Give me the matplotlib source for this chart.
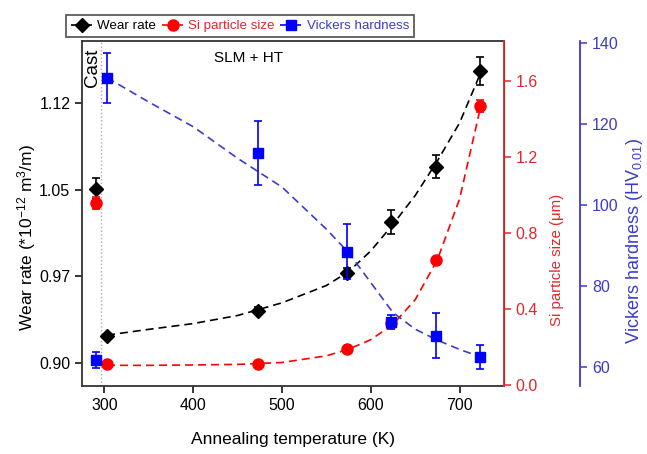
import matplotlib
matplotlib.use("Agg")
import matplotlib.pyplot as plt
from matplotlib.ticker import FormatStrFormatter

plt.rcParams['font.family'] = ['Liberation Sans', 'DejaVu Sans']
plt.rcParams['mathtext.default'] = 'regular'
plt.rcParams['font.size'] = 11.5

# measured points (cast sample drawn slightly left of 300 K)
temp = [291, 303, 473, 573, 623, 673, 723]
wear = [1.051, 0.923, 0.945, 0.978, 1.022, 1.070, 1.153]
wear_err = [0.009, 0.002, 0.003, 0.004, 0.010, 0.010, 0.012]
si_size = [0.958, 0.11, 0.11, 0.19, 0.33, 0.658, 1.468]
si_err = [0.03, 0.01, 0.01, 0.01, 0.01, 0.01, 0.03]
hv = [61.7, 131.4, 112.8, 88.4, 71.1, 67.7, 62.5]
hv_err = [2.0, 6.2, 8.0, 6.8, 1.8, 5.5, 3.0]

# dashed fit curves
fit_t = [303, 350, 400, 450, 500, 550, 575, 600, 625, 650, 675, 700, 723]
wear_fit = [0.924, 0.929, 0.934, 0.941, 0.952, 0.967, 0.979, 0.997, 1.020, 1.045, 1.075, 1.108, 1.150]
si_fit = [0.105, 0.105, 0.107, 0.110, 0.120, 0.155, 0.19, 0.24, 0.32, 0.45, 0.66, 0.98, 1.45]
hv_fit = [131.4, 125.4, 119.3, 111.5, 104.4, 94.0, 88.2, 80.8, 73.4, 69.3, 66.6, 64.3, 62.5]

black = 'black'
red = '#ff0000'
red_ax = '#e3262a'
blue = '#0000ff'
blue_ax = '#3c3cc8'
dash = (0, (4.8, 3))

fig = plt.figure(figsize=(6.47, 4.54), dpi=100)
ax = fig.add_axes([0.127, 0.15, 0.652, 0.76])
ax2 = ax.twinx()
ax3 = ax.twinx()
ax3.spines['right'].set_position(('outward', 54.7))

# wear rate
ax.plot(fit_t, wear_fit, color=black, lw=1.2, ls=dash)
ax.errorbar(temp, wear, yerr=wear_err, fmt='D', color=black, ms=7,
            capsize=3, capthick=1.2, elinewidth=1.2)
l1, = ax.plot([], [], color=black, ls=dash, lw=1.2, marker='D', ms=7,
              label='Wear rate')

# Si particle size
ax2.plot(fit_t, si_fit, color=red, lw=1.2, ls=dash)
ax2.errorbar(temp, si_size, yerr=si_err, fmt='o', color=red, ms=8,
             capsize=3, capthick=1.2, elinewidth=1.2)
l2, = ax2.plot([], [], color=red, ls=dash, lw=1.2, marker='o', ms=8,
               label='Si particle size')

# Vickers hardness
ax3.plot(fit_t, hv_fit, color=blue_ax, lw=1.2, ls=dash)
ax3.errorbar(temp, hv, yerr=hv_err, fmt='s', color=blue, ms=7,
             capsize=3, capthick=1.2, elinewidth=1.2)
l3, = ax3.plot([], [], color=blue, ls=dash, lw=1.2, marker='s', ms=7,
               label='Vickers hardness')

ax.axvline(296, color='#aaaaaa', ls=':', lw=1)
ax.text(287, 1.172, 'Cast', rotation=90, ha='center', va='top',
        fontsize=13.5)
ax.text(0.395, 0.95, 'SLM + HT', transform=ax.transAxes, ha='center',
        va='center', fontsize=11)

ax.set_xlim(275, 750)
ax.set_ylim(0.88, 1.179)
ax.set_xticks([300, 400, 500, 600, 700])
ax.set_yticks([0.9, 0.975, 1.05, 1.125])
ax.yaxis.set_major_formatter(FormatStrFormatter('%.2f'))
ax.set_xlabel('Annealing temperature (K)', labelpad=14, fontsize=12.5)
ax.set_ylabel('Wear rate (*10$^{-12}$ m$^3$/m)', fontsize=12.5)
ax.yaxis.set_label_coords(-0.104, 0.43)

ax2.set_ylim(-0.003, 1.81)
ax2.set_yticks([0.0, 0.4, 0.8, 1.2, 1.6])
ax2.yaxis.set_major_formatter(FormatStrFormatter('%.1f'))
ax2.set_ylabel('Si particle size (\u03bcm)', color=red_ax, fontsize=10.8)
ax2.yaxis.set_label_coords(1.109, 0.365)
ax2.tick_params(axis='y', colors=red_ax)
ax2.spines['right'].set_color(red_ax)

ax3.set_ylim(55.3, 140.5)
ax3.set_yticks([60, 80, 100, 120, 140])
ax3.set_ylabel('Vickers hardness (HV$_{0.01}$)', color=blue_ax, fontsize=13)
ax3.yaxis.set_label_coords(1.284, 0.42)
ax3.tick_params(axis='y', colors=blue_ax)
ax3.spines['right'].set_color(blue_ax)
ax3.spines['right'].set_linewidth(1.3)
ax2.spines['right'].set_linewidth(1.3)

for a in (ax, ax2, ax3):
    a.tick_params(direction='out', length=5, width=1.1)
for s in ('left', 'bottom', 'top'):
    ax.spines[s].set_color('#333333')
    ax.spines[s].set_linewidth(1.3)
for a in (ax2, ax3):
    for s in ('left', 'bottom', 'top'):
        a.spines[s].set_visible(False)

leg = fig.legend(handles=[l1, l2, l3], loc='lower left',
                 bbox_to_anchor=(66 / 647, 1 - 37 / 454), ncol=3,
                 fontsize=9.6, handlelength=1.7, handletextpad=0.3,
                 columnspacing=0.4, borderpad=0.35, borderaxespad=0,
                 fancybox=False, frameon=True)
leg.get_frame().set_edgecolor('#333333')
leg.get_frame().set_linewidth(1.3)
for txt, c in zip(leg.get_texts(), [black, red_ax, blue_ax]):
    txt.set_color(c)

fig.savefig('out.png', dpi=100)
